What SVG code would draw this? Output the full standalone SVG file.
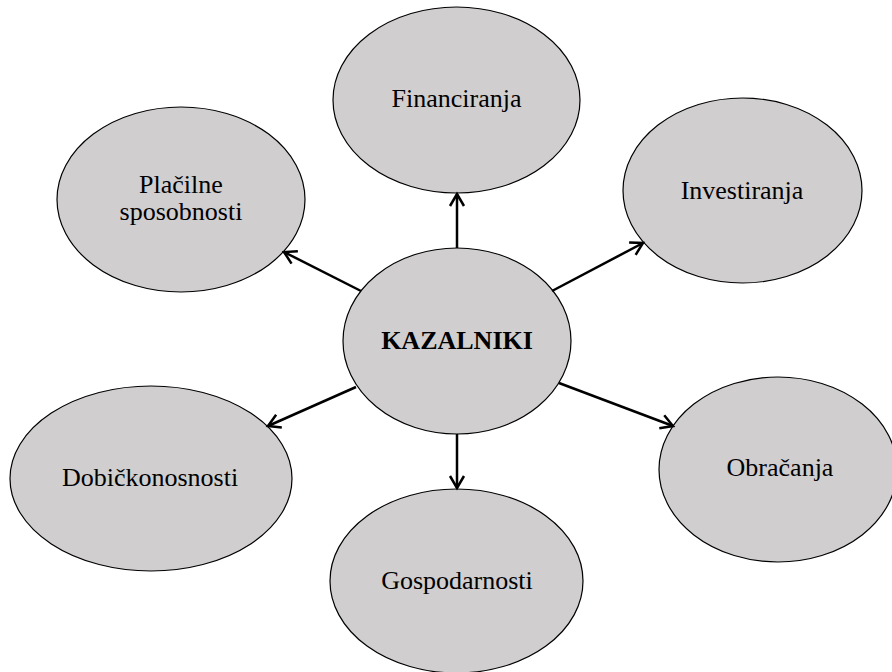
<svg xmlns="http://www.w3.org/2000/svg" width="892" height="672" viewBox="0 0 892 672">
<defs>
<style>
.n{fill:#d0cecf;stroke:#000;stroke-width:1.2}
.t{font-family:"Liberation Serif","Times New Roman",serif;font-size:26px;fill:#000;text-anchor:middle}
.b{font-weight:bold}
.c line{stroke:#000;stroke-width:2.5;marker-end:url(#ah)}
</style>
<marker id="ah" markerUnits="userSpaceOnUse" markerWidth="20" markerHeight="20" refX="14" refY="8" orient="auto" viewBox="0 0 20 16">
<path d="M2,1 L14,8 L2,15" fill="none" stroke="#000" stroke-width="2.5"/>
</marker>
</defs>
<rect width="892" height="672" fill="#fff"/>
<g id="financiranja"><ellipse class="n" cx="456.5" cy="100" rx="123.5" ry="93"/><text class="t" x="456.5" y="107">Financiranja</text></g>
<g id="investiranja"><ellipse class="n" cx="742.5" cy="190.5" rx="119.5" ry="92.5"/><text class="t" x="742" y="199">Investiranja</text></g>
<g id="placilne"><ellipse class="n" cx="181" cy="199.5" rx="124" ry="92.5"/><text class="t" x="181" y="193">Plačilne</text><text class="t" x="181" y="220">sposobnosti</text></g>
<g id="dobickonosnosti"><ellipse class="n" cx="151" cy="478.5" rx="141" ry="92.5"/><text class="t" x="150" y="486">Dobičkonosnosti</text></g>
<g id="obracanja"><ellipse class="n" cx="778" cy="469.5" rx="119" ry="92.5"/><text class="t" x="780" y="476">Obračanja</text></g>
<g id="gospodarnosti"><ellipse class="n" cx="456.5" cy="581" rx="126.5" ry="92"/><text class="t" x="457" y="589">Gospodarnosti</text></g>
<g id="kazalniki"><ellipse class="n" cx="457" cy="341" rx="114" ry="93"/><text class="t b" x="457" y="349">KAZALNIKI</text></g>
<g id="connectors" class="c">
<line x1="457" y1="248" x2="457" y2="194"/>
<line x1="361" y1="291" x2="284" y2="252"/>
<line x1="552" y1="291" x2="643" y2="243"/>
<line x1="356" y1="387" x2="268" y2="426"/>
<line x1="559" y1="383" x2="673" y2="426"/>
<line x1="457" y1="434" x2="457" y2="488"/>
</g>
</svg>
